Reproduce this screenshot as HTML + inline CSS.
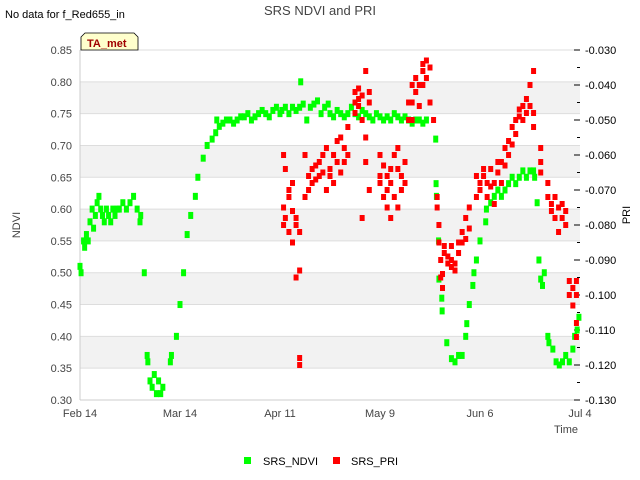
<!DOCTYPE html>
<html><head><meta charset="utf-8"><style>
body{margin:0;background:#fff;}
svg{display:block;font-family:"Liberation Sans","DejaVu Sans",sans-serif;}
</style></head><body>
<svg id="chart" width="640" height="480" viewBox="0 0 640 480">
<text x="5" y="18" font-size="11" fill="#000">No data for f_Red655_in</text>
<text x="320" y="15" font-size="13" fill="#444" text-anchor="middle">SRS NDVI and PRI</text>
<g id="bands"></g><g id="grid"></g>
<line x1="80" y1="50" x2="80" y2="400" stroke="#ccc"/>
<line x1="80" y1="400" x2="580" y2="400" stroke="#ccc"/>
<g id="yl"></g><g id="yr"></g><g id="xt"></g><g id="marks"></g>
<text x="20" y="225" font-size="11" fill="#444" text-anchor="middle" transform="rotate(-90 20 225)">NDVI</text>
<text x="630" y="215" font-size="11" fill="#000" text-anchor="middle" transform="rotate(-90 630 215)">PRI</text>
<text x="578" y="433" font-size="11" fill="#444" text-anchor="end">Time</text>
<g><path d="M81,50 L81,37 L85,33 L134,33 L138,37 L138,50 Z" fill="#ffffcc" stroke="#000" stroke-width="0.8"/><text x="87" y="47" font-size="11" font-weight="bold" fill="#a00000">TA_met</text></g>
<g>
<rect x="244" y="457" width="7" height="7" fill="#00ff00"/>
<text x="263" y="465" font-size="11" fill="#000">SRS_NDVI</text>
<rect x="333" y="457" width="7" height="7" fill="#ff0000"/>
<text x="351" y="465" font-size="11" fill="#000">SRS_PRI</text>
</g>
</svg>
<script>
const xLabels=["Feb 14","Mar 14","Apr 11","May 9","Jun 6","Jul 4"];
const xLabelDays=[0,28,56,84,112,140];
const leftTicks=[0.30,0.35,0.40,0.45,0.50,0.55,0.60,0.65,0.70,0.75,0.80,0.85];
const rightTicks=[-0.13,-0.12,-0.11,-0.10,-0.09,-0.08,-0.07,-0.06,-0.05,-0.04,-0.03];
const ndviDays=[0,0.3,1,1.3,1.8,2.3,2.8,3.4,3.8,4.3,4.8,5.3,5.8,6.3,6.8,7.4,8,8.6,9.2,9.8,10.4,11,12,13,14,15,16,16.8,17,18,18.8,19,19.6,20.2,20.8,21.4,22,22.6,23.2,25.3,25.6,27,28,29,30,31,32.3,33,34.5,35.6,37,38,38.3,
39,40,41,42,43,44,45,46,47,48,49,50,51,52,53,54,55,56,56.5,57.5,58.5,59.5,60.5,61.5,61.8,62.5,63.5,64.5,65.5,66.5,67.5,68.5,69.5,
70,71,72,73,74,75,76,77,78,79,80,81,82,83,84,85,86,87,88,89,90,91,92,93,94,95,96,97,99.6,99.7,99.8,100.4,100.5,101.3,101.4,102.7,104,105,106,107,108,108.3,109,110,110.3,111,112,113.6,113.8,115,116,117,118,119,120,121,122,123,124,125,126,127,127.3,128,128.5,129,129.5,130,131,131.3,132.4,133.3,134.2,135.1,136,137,138,138.5,139.2,139.7];
const ndviVals=[0.51,0.50,0.55,0.54,0.56,0.55,0.58,0.60,0.57,0.59,0.61,0.62,0.60,0.59,0.58,0.60,0.59,0.58,0.60,0.59,0.60,0.60,0.61,0.60,0.61,0.62,0.60,0.58,0.59,0.50,0.37,0.36,0.33,0.32,0.34,0.31,0.33,0.31,0.32,0.36,0.37,0.40,0.45,0.50,0.56,0.59,0.62,0.65,0.68,0.70,0.71,0.72,0.74,
0.73,0.735,0.74,0.74,0.735,0.74,0.745,0.745,0.75,0.74,0.745,0.75,0.755,0.75,0.745,0.755,0.76,0.75,0.755,0.76,0.75,0.76,0.755,0.76,0.80,0.765,0.74,0.76,0.765,0.77,0.75,0.76,0.765,
0.75,0.745,0.755,0.75,0.745,0.75,0.76,0.75,0.745,0.755,0.75,0.745,0.74,0.75,0.745,0.74,0.745,0.74,0.75,0.745,0.74,0.745,0.74,0.735,0.74,0.74,0.735,0.74,0.71,0.64,0.62,0.55,0.49,0.46,0.44,0.39,0.365,0.36,0.37,0.37,0.40,0.42,0.45,0.48,0.50,0.52,0.55,0.58,0.60,0.61,0.62,0.63,0.62,0.63,0.64,0.65,0.64,0.65,0.66,0.65,0.66,0.66,0.65,0.61,0.52,0.49,0.48,0.50,0.40,0.39,0.38,0.36,0.355,0.36,0.37,0.36,0.38,0.40,0.41,0.43];
const priDays=[57,57,57,57.5,57.5,58.5,58.5,58.5,59.5,59.5,59.5,60.5,60.5,60.5,61.5,61.5,61.5,61.5,63,63,64,64,65,65,66,66,67,67,68,68,69,69,70,70,71,71,72,72,73,73,74,74,75,75,
77,77,77,78,78,78,79,79,79,80,80,80,81,81,81,84,84,84,85,85,86,86,86,87,87,87,88,88,89,89,89,90,90,91,91,92,92,
93,93,93,94,94,95,95,96,96,96,97,97,98,98,99,100,100,100.5,100.5,101,101,101.5,101.5,102,102,103,103,104,104,104,105,105,106,106,107,107,108,108,109,109,
111,111,112,112,113,113,114,114,115,115,116,116,117,117,118,118,119,119,120,120,121,121,122,122,123,123,124,124,125,125,126,126,127,127,127,129,129,129,131,131,132,132,133,133,134,134,135,135,136,136,137,137,138,138,139,139,139,139];
const priVals=[-0.060,-0.075,-0.080,-0.078,-0.064,-0.082,-0.070,-0.072,-0.076,-0.085,-0.068,-0.078,-0.080,-0.095,-0.120,-0.118,-0.093,-0.082,-0.060,-0.072,-0.066,-0.070,-0.068,-0.064,-0.067,-0.063,-0.062,-0.066,-0.060,-0.065,-0.058,-0.070,-0.064,-0.066,-0.060,-0.068,-0.062,-0.056,-0.055,-0.065,-0.058,-0.062,-0.052,-0.060,
-0.045,-0.048,-0.042,-0.044,-0.046,-0.041,-0.043,-0.050,-0.078,-0.036,-0.062,-0.055,-0.045,-0.070,-0.042,-0.066,-0.068,-0.060,-0.063,-0.072,-0.066,-0.075,-0.070,-0.068,-0.064,-0.078,-0.072,-0.060,-0.064,-0.058,-0.075,-0.070,-0.066,-0.062,-0.068,-0.050,-0.045,
-0.040,-0.045,-0.050,-0.038,-0.042,-0.046,-0.040,-0.034,-0.036,-0.040,-0.033,-0.038,-0.035,-0.045,-0.050,-0.072,-0.075,-0.080,-0.085,-0.090,-0.095,-0.098,-0.094,-0.088,-0.086,-0.089,-0.091,-0.090,-0.092,-0.086,-0.093,-0.091,-0.088,-0.085,-0.082,-0.085,-0.078,-0.084,-0.075,-0.081,
-0.072,-0.066,-0.068,-0.070,-0.064,-0.066,-0.072,-0.068,-0.064,-0.069,-0.068,-0.074,-0.062,-0.065,-0.062,-0.068,-0.058,-0.063,-0.056,-0.060,-0.052,-0.057,-0.050,-0.054,-0.047,-0.049,-0.046,-0.050,-0.044,-0.048,-0.040,-0.046,-0.036,-0.048,-0.052,-0.058,-0.062,-0.065,-0.068,-0.072,-0.076,-0.074,-0.072,-0.078,-0.075,-0.082,-0.074,-0.078,-0.076,-0.080,-0.096,-0.100,-0.098,-0.103,-0.100,-0.096,-0.108,-0.112];

const X0=80,X1=580,Y0=50,Y1=400;
function xs(d){return X0+(d/140)*(X1-X0);}
function yl(v){return Y1-(v-0.30)/(0.55)*(Y1-Y0);}
function yr(v){return Y1-(v+0.13)/0.10*(Y1-Y0);}
const NS="http://www.w3.org/2000/svg";
function mk(tag,attrs,parent){const e=document.createElementNS(NS,tag);for(const k in attrs)e.setAttribute(k,attrs[k]);document.getElementById(parent).appendChild(e);return e;}

for(let i=0;i<leftTicks.length-1;i++){
  if(i%2===1){
    const b=mk('rect',{x:X0,y:yl(leftTicks[i+1]),width:X1-X0,height:yl(leftTicks[i])-yl(leftTicks[i+1]),fill:'#f2f2f2'},'bands');
    
    
  }
}
leftTicks.forEach(v=>{
  const g=mk('line',{x1:X0,x2:X1,y1:yl(v),y2:yl(v),stroke:'#dddddd'},'grid');
  
  
  const t=mk('text',{x:72,y:yl(v)+4,'font-size':11,fill:'#444','text-anchor':'end'},'yl');
  t.textContent=v.toFixed(2);
  
  
});
rightTicks.forEach((v,i)=>{
  const t=mk('text',{x:585,y:yr(v)+4,'font-size':11,fill:'#000'},'yr');
  t.textContent=v.toFixed(3);
  
  
  const tk=mk('line',{x1:X1,x2:X1-6,y1:yr(v),y2:yr(v),stroke:'#000'},'yr');
  
  
  if(i<rightTicks.length-1){
    const m=mk('line',{x1:X1,x2:X1-3,y1:yr(v+0.005),y2:yr(v+0.005),stroke:'#000'},'yr');
    
    
  }
});
xLabels.forEach((l,i)=>{
  const t=mk('text',{x:xs(xLabelDays[i]),y:417,'font-size':11,fill:'#444','text-anchor':'middle'},'xt');
  t.textContent=l;
  
  
});
ndviDays.forEach((d,i)=>{
  const r=mk('rect',{x:xs(d)-2.5,y:yl(ndviVals[i])-3.5,width:5,height:7,fill:'#00ff00'},'marks');
  
  
});
priDays.forEach((d,i)=>{
  const r=mk('rect',{x:xs(d)-2.5,y:yr(priVals[i])-3,width:5,height:6,fill:'#ff0000'},'marks');
  
  
});
</script>
</body></html>
